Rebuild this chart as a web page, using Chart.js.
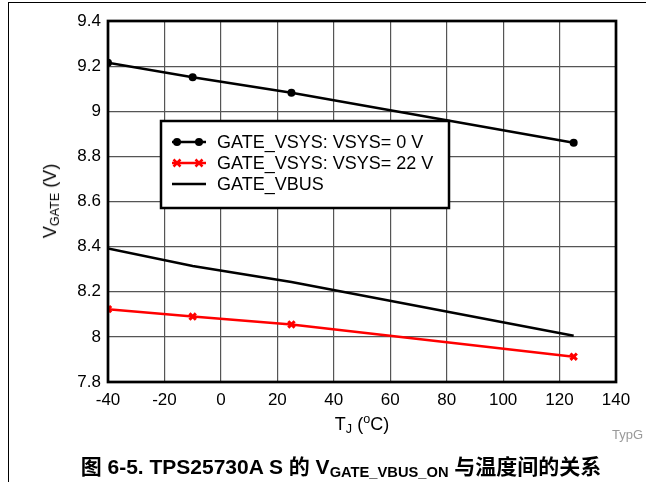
<!DOCTYPE html>
<html>
<head>
<meta charset="utf-8">
<script src="https://cdn.jsdelivr.net/npm/chart.js@4"></script>
<style>
  body { margin: 0; background: #fff; }
  #wrap { position: relative; width: 646px; height: 482px; overflow: hidden; font-family: "Liberation Sans", Arial, "Noto Sans CJK SC", sans-serif; }
  #frameTop { position: absolute; left: 8px; top: 2px; width: 640px; height: 0; border-top: 1.5px solid #000; }
  #frameLeft { position: absolute; left: 8px; top: 2px; width: 0; height: 482px; border-left: 1.5px solid #000; }
  canvas { position: absolute; left: 0; top: 0; }
  .txt { position: absolute; white-space: nowrap; color: #000; }
  sub { font-size: 0.7em; vertical-align: -0.25em; }
  sup { font-size: 0.7em; vertical-align: 0.5em; }
</style>
</head>
<body>
<div id="wrap">
  <div id="frameTop"></div>
  <div id="frameLeft"></div>
  <canvas id="myChart" width="646" height="482"></canvas>
  <div class="txt" id="ytitle" style="font-size:18px; left:51px; top:201px; transform: translate(-50%,-50%) rotate(-90deg);">V<sub>GATE</sub> (V)</div>
  <div class="txt" style="font-size:18px; left:362px; top:424px; transform: translate(-50%,-50%);">T<sub>J</sub> (<sup>o</sup>C)</div>
  <div class="txt" style="font-size:13px; color:#999; left:612px; top:427px;">TypG</div>
  <div class="txt" style="font-size:21px; font-weight:bold; left:341px; top:465px; transform: translate(-50%,-50%);">图 6-5. TPS25730A S 的 V<sub>GATE_VBUS_ON</sub> 与温度间的关系</div>
</div>
<script>
// temperaturas (°C) y valores (V)
const temps = [-40, -10, 25, 125]
const vsys0 = [9.215, 9.151, 9.082, 8.86]
const vsys22 = [8.123, 8.09, 8.055, 7.912]
const vbus = [8.392, 8.314, 8.243, 8.005]
const xTicks = [-40, -20, 0, 20, 40, 60, 80, 100, 120, 140]
const yTicks = [7.8, 8, 8.2, 8.4, 8.6, 8.8, 9, 9.2, 9.4]
const etiquetas = ['GATE_VSYS: VSYS= 0 V', 'GATE_VSYS: VSYS= 22 V', 'GATE_VBUS']

const puntos = (ys) => temps.map((t, i) => ({ x: t, y: ys[i] }))

const fuente = { family: '"Liberation Sans", Arial, sans-serif', size: 17 }

// borde grueso del area y leyenda dentro del grafico
const bordeYLeyenda = {
    id: 'bordeYLeyenda',
    afterDraw(chart) {
        const ctx = chart.ctx
        const a = chart.chartArea
        ctx.save()
        ctx.strokeStyle = '#000'
        ctx.lineWidth = 2.7
        ctx.strokeRect(a.left, a.top, a.right - a.left, a.bottom - a.top)

        // leyenda
        const lx = 161, ly = 121, lw = 288, lh = 87
        ctx.fillStyle = '#fff'
        ctx.fillRect(lx, ly, lw, lh)
        ctx.lineWidth = 2.5
        ctx.strokeRect(lx, ly, lw, lh)
        const filas = [142, 163, 184]
        chart.data.datasets.forEach((ds, i) => {
            const y = filas[i]
            ctx.strokeStyle = ds.borderColor
            ctx.lineWidth = 2.5
            ctx.beginPath()
            ctx.moveTo(172, y)
            ctx.lineTo(206, y)
            ctx.stroke()
            if (ds.pointRadius > 0) {
                [177, 199].forEach(px => {
                    if (ds.pointStyle === 'crossRot') {
                        const r = 3.5
                        ctx.lineWidth = 2.5
                        ctx.beginPath()
                        ctx.moveTo(px - r, y - r); ctx.lineTo(px + r, y + r)
                        ctx.moveTo(px + r, y - r); ctx.lineTo(px - r, y + r)
                        ctx.stroke()
                    } else {
                        ctx.fillStyle = ds.borderColor
                        ctx.beginPath()
                        ctx.arc(px, y, 4, 0, Math.PI * 2)
                        ctx.fill()
                    }
                })
            }
            ctx.fillStyle = '#000'
            ctx.font = '18px "Liberation Sans", Arial, sans-serif'
            ctx.textBaseline = 'middle'
            ctx.fillText(ds.label, 217, y + 1)
        })
        ctx.restore()
    }
}

const ctx = document.getElementById('myChart')
const myChart = new Chart(ctx, {
    type: 'scatter',
    data: {
        datasets: [{
            label: etiquetas[0],
            data: puntos(vsys0),
            showLine: true,
            borderColor: '#000',
            backgroundColor: '#000',
            borderWidth: 2.5,
            pointRadius: 4,
            pointBorderWidth: 0,
            pointStyle: 'circle'
        }, {
            label: etiquetas[1],
            data: puntos(vsys22),
            showLine: true,
            borderColor: '#ff0000',
            backgroundColor: '#ff0000',
            borderWidth: 2.5,
            pointRadius: 4.5,
            pointBorderWidth: 3,
            pointStyle: 'crossRot'
        }, {
            label: etiquetas[2],
            data: puntos(vbus),
            showLine: true,
            borderColor: '#000',
            backgroundColor: '#000',
            borderWidth: 2.5,
            pointRadius: 0
        }]
    },
    options: {
        responsive: false,
        animation: false,
        layout: { padding: { top: 21, right: 30, left: 0, bottom: 0 } },
        plugins: { legend: { display: false }, tooltip: { enabled: false } },
        scales: {
            x: {
                type: 'linear',
                min: -40, max: 140,
                afterFit: s => { s.height = 100 },
                afterBuildTicks: s => { s.ticks = xTicks.map(v => ({ value: v })) },
                grid: { color: '#555', lineWidth: 1.2, drawTicks: false },
                border: { display: false },
                ticks: { color: '#000', font: fuente, padding: 8, maxRotation: 0 }
            },
            y: {
                type: 'linear',
                min: 7.8, max: 9.4,
                afterFit: s => { s.width = 108 },
                afterBuildTicks: s => { s.ticks = yTicks.map(v => ({ value: v })) },
                grid: { color: '#555', lineWidth: 1.2, drawTicks: false },
                border: { display: false },
                ticks: { color: '#000', font: fuente, padding: 7, callback: v => String(Math.round(v * 10) / 10) }
            }
        }
    },
    plugins: [bordeYLeyenda]
})
</script>
</body>
</html>
